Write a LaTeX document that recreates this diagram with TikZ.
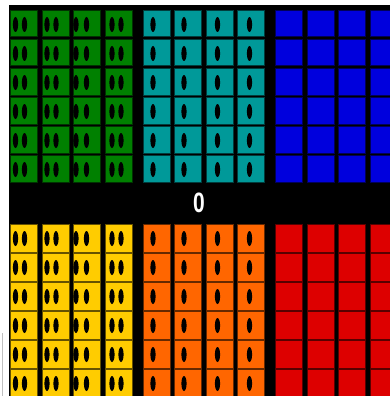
\documentclass[tikz,border=0pt]{standalone}
\usepackage{fontspec}
\setmainfont{Liberation Sans}
\definecolor{tileGreen}{RGB}{0,128,0}
\definecolor{tileTeal}{RGB}{0,153,153}
\definecolor{tileBlue}{RGB}{0,0,221}
\definecolor{tileYellow}{RGB}{255,204,0}
\definecolor{tileOrange}{RGB}{255,102,0}
\definecolor{tileRed}{RGB}{221,0,0}
\tikzset{
  tile/.style={draw=#1!40!black, fill=#1, line width=0.6pt},
  pip/.style={fill=black},
}
\begin{document}
\begin{tikzpicture}[x=1pt,y=-1pt]
    \useasboundingbox (0,0) rectangle (390,396);

    % Backdrop
    \fill[black] (9,5) rectangle (390,396);
    \draw[gray!50, line width=1pt] (2,333) -- (2,396);

    % Tiles (block, top, colour)
    \foreach \b/\top/\h/\col in {0/10/26.5/tileGreen, 1/10/26.5/tileTeal, 2/10/26.5/tileBlue,
                                 0/224/27.5/tileYellow, 1/224/27.5/tileOrange, 2/224/27.5/tileRed}
      \foreach \c in {0,...,3}
        \foreach \r in {0,...,5}
          \draw[tile=\col] ({10.3+132.5*\b+31.5*\c},{\top+0.3+29*\r}) rectangle ++(27.4,\h);

    % Two pips per tile (green, yellow)
    \foreach \top in {10,224}
      \foreach \c/\pa/\pb in {0/5.5/14.5, 1/5.5/14.5, 2/3/13.5, 3/7.5/16.5}
        \foreach \r in {0,...,5} {
          \fill[pip] ({10+31.5*\c+\pa},{\top+29*\r+14.5}) ellipse (2.6 and 7.5);
          \fill[pip] ({10+31.5*\c+\pb},{\top+29*\r+14.5}) ellipse (2.6 and 7.5);
        }

    % One pip per tile (teal, orange)
    \foreach \top in {10,224}
      \foreach \c/\pa in {0/10.5, 1/10, 2/12, 3/12.5}
        \foreach \r in {0,...,5}
          \fill[pip] ({142.5+31.5*\c+\pa},{\top+29*\r+14.5}) ellipse (2.6 and 7.5);

    % Count
    \node[text=white, font=\fontsize{28}{28}\selectfont\bfseries, xscale=0.75, inner sep=0pt] (count) at (199,203) {0};

\end{tikzpicture}
\end{document}
